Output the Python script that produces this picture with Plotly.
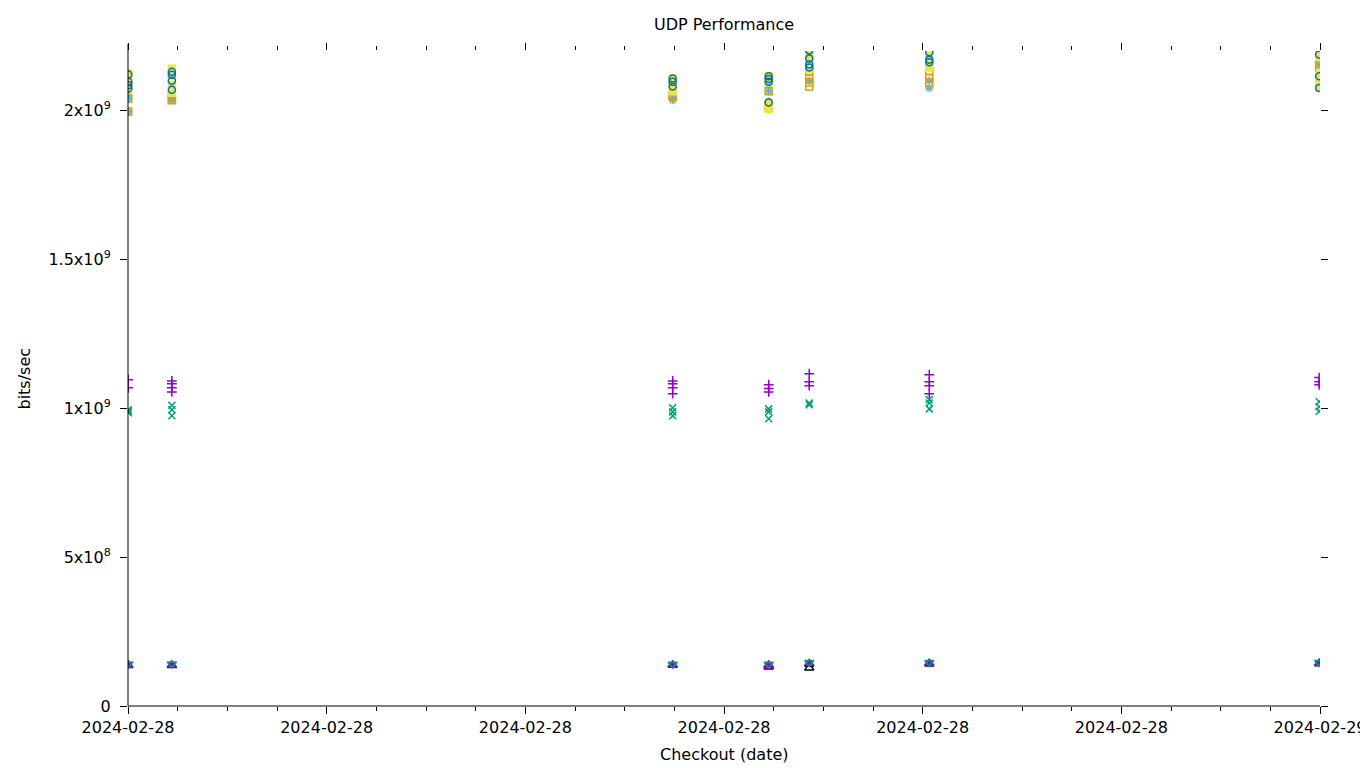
import plotly.graph_objects as go

# ---- data ----
run_times = [
    "2024-02-28 00:00:20", "2024-02-28 00:53:00", "2024-02-28 10:58:00",
    "2024-02-28 12:54:00", "2024-02-28 13:43:00", "2024-02-28 16:08:00",
    "2024-02-28 23:59:00",
]

# bits/sec, one list of runs per checkout time
plus_vals = [
    [1.096e9, 1.069e9],
    [1.092e9, 1.082e9, 1.069e9, 1.055e9],
    [1.092e9, 1.082e9, 1.069e9, 1.049e9],
    [1.079e9, 1.066e9, 1.055e9],
    [1.116e9, 1.089e9, 1.076e9],
    [1.113e9, 1.089e9, 1.076e9, 1.049e9],
    [1.103e9, 1.089e9, 1.079e9],
]
cross_vals = [
    [0.995e9, 0.990e9, 0.985e9],
    [1.010e9, 0.995e9, 0.975e9],
    [1.002e9, 0.988e9, 0.975e9],
    [0.998e9, 0.988e9, 0.965e9],
    [1.018e9, 1.012e9],
    [1.029e9, 1.018e9, 0.998e9],
    [1.022e9, 1.005e9, 0.990e9],
]
star_vals = [
    [1.997e9, 2.040e9, 2.050e9],
    [2.045e9, 2.035e9],
    [2.035e9, 2.045e9],
    [2.087e9, 2.065e9, 2.030e9],
    [2.150e9, 2.100e9],
    [2.076e9, 2.100e9],
    [2.155e9, 2.100e9],
]
osq_vals = [
    [2.040e9, 1.997e9],
    [2.045e9, 2.035e9],
    [2.047e9, 2.052e9],
    [2.065e9, 2.020e9, 2.010e9],
    [2.131e9, 2.108e9, 2.094e9, 2.081e9],
    [2.132e9, 2.110e9, 2.093e9],
    [2.155e9, 2.145e9],
]
fsq_vals = [
    [2.125e9, 2.105e9, 2.085e9, 2.070e9],
    [2.140e9, 2.115e9, 2.085e9, 2.060e9],
    [2.108e9, 2.090e9, 2.065e9],
    [2.115e9, 2.095e9, 2.025e9, 2.005e9],
    [2.205e9, 2.190e9, 2.170e9, 2.140e9],
    [2.185e9, 2.165e9, 2.145e9],
    [2.192e9, 2.180e9, 2.120e9, 2.090e9, 2.078e9],
]
ocirc_vals = [
    [2.121e9, 2.097e9, 2.074e9, 2.085e9],
    [2.130e9, 2.120e9, 2.100e9, 2.070e9],
    [2.108e9, 2.097e9, 2.081e9],
    [2.115e9, 2.106e9, 2.097e9, 2.027e9],
    [2.202e9, 2.175e9, 2.155e9, 2.145e9],
    [2.196e9, 2.171e9, 2.162e9],
    [2.188e9, 2.115e9, 2.076e9],
]
otri_vals = [
    [0.136e9], [0.136e9], [0.137e9], [0.136e9, 0.131e9],
    [0.128e9, 0.140e9], [0.141e9], [0.142e9],
]
ftri_vals = [
    [0.138e9], [0.138e9], [0.138e9], [0.138e9, 0.133e9],
    [0.143e9], [0.144e9], [0.144e9],
]
dtri_vals = [
    [0.141e9], [0.141e9], [0.140e9], [0.140e9],
    [0.146e9], [0.146e9], [0.146e9],
]

y_tick_vals = [0, 5e8, 1e9, 1.5e9, 2e9]
y_tick_text = ["0", "5x10<sup>8</sup>", "1x10<sup>9</sup>",
               "1.5x10<sup>9</sup>", "2x10<sup>9</sup>"]

series = [
    ("plus", plus_vals, "cross-thin-open", "#9400d3", 7),
    ("cross", cross_vals, "x-thin-open", "#009e73", 7),
    ("star", star_vals, "asterisk-open", "#56b4e9", 7),
    ("osq", osq_vals, "square-open", "#e69f00", 7),
    ("fsq", fsq_vals, "square", "#f0e442", 7),
    ("ocirc", ocirc_vals, "circle-open", "#0072b2", 7),
    ("otri", otri_vals, "triangle-up-open", "#000000", 8),
    ("ftri", ftri_vals, "triangle-up", "#9400d3", 8),
    ("dtri", dtri_vals, "triangle-down-open", "#009e73", 8),
]

FONT = "DejaVu Sans"
FS = 16
fig = go.Figure()
for name, vals, sym, col, sz in series:
    xs, ys = [], []
    for t, runs in zip(run_times, vals):
        for v in runs:
            xs.append(t)
            ys.append(v)
    fig.add_trace(go.Scatter(
        x=xs, y=ys, mode="markers", name=name, showlegend=False,
        marker=dict(symbol=sym, size=sz, color=col,
                    line=dict(color=col, width=1.5)),
    ))

W, H = 1360, 768
L, R, T, B = 128, 40, 51, 62
PH = H - T - B
PW = W - L - R

fig.update_layout(
    width=W, height=H,
    margin=dict(l=L, r=R, t=T, b=B, autoexpand=False),
    paper_bgcolor="white", plot_bgcolor="white",
    font=dict(family=FONT, size=FS, color="black"),
    title=dict(text="UDP Performance", x=(L + PW / 2) / W, xanchor="center",
               y=1 - 24 / H, yanchor="middle", yref="container",
               font=dict(family=FONT, size=FS, color="black")),
    xaxis=dict(
        type="date",
        range=["2024-02-28 00:00:00", "2024-02-29 00:00:00"],
        tick0="2024-02-28 00:00:00", dtick=4 * 3600 * 1000,
        tickformat="%Y-%m-%d",
        ticklabeloverflow="allow", automargin=False,
        showgrid=False, zeroline=False, showline=False,
        ticks="outside", ticklen=7, tickwidth=1, tickcolor="black",
        mirror="ticks",
        minor=dict(dtick=3600 * 1000, ticks="outside", ticklen=4,
                   tickwidth=1, tickcolor="black", showgrid=False),
        tickfont=dict(family=FONT, size=FS),
    ),
    yaxis=dict(
        range=[0, 2.20e9],
        tickvals=y_tick_vals, ticktext=y_tick_text,
        automargin=False,
        showgrid=False, zeroline=False, showline=False,
        ticks="outside", ticklen=7, tickwidth=1, tickcolor="black",
        mirror="ticks", ticklabelstandoff=6,
        tickfont=dict(family=FONT, size=FS),
    ),
    shapes=[
        dict(type="line", xref="paper", yref="paper", x0=0, x1=0,
             y0=0, y1=1 + 7 / PH, line=dict(color="black", width=1)),
        dict(type="line", xref="paper", yref="paper", x0=0, x1=1,
             y0=0, y1=0, line=dict(color="black", width=1)),
    ],
    annotations=[
        dict(text="bits/sec", xref="paper", yref="paper",
             x=(24 - L) / PW, y=0.5, textangle=-90, showarrow=False,
             xanchor="center", yanchor="middle",
             font=dict(family=FONT, size=FS)),
        dict(text="Checkout (date)", xref="paper", yref="paper",
             x=0.5, y=-(754 - (T + PH)) / PH, showarrow=False,
             xanchor="center", yanchor="middle",
             font=dict(family=FONT, size=FS)),
    ],
)

# remove the page's default 8px body margin so the figure fills the window
fig.write_html(
    "out.html",
    config={"displayModeBar": False},
    post_script="document.body.style.margin='0';document.body.style.padding='0';",
)
